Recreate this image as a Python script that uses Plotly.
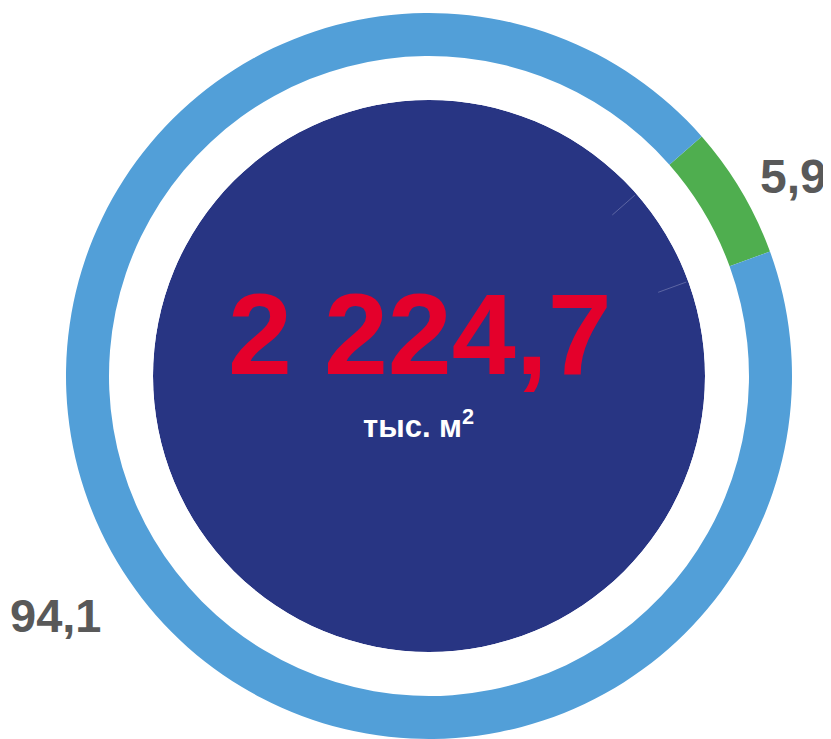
import plotly.graph_objects as go

# Data
segment_names = ["Доля 1", "Доля 2"]
segment_values = [5.9, 94.1]
segment_labels = ["5,9", "94,1"]
total_value = "2 224,7"
total_unit = "тыс. м<sup>2</sup>"

# page offset (default body margin) compensation
OFF = 8
W, H = 831 - OFF, 739 - OFF
cx, cy = 429 - OFF, 376 - OFF          # pie centre in px within the figure
R_out, R_ring_in, R_dark, R_line_in = 363, 320, 276, 244

def dom(r):
    x = [(cx - r) / W, (cx + r) / W]
    yb = H - cy
    y = [max(0, (yb - r) / H), min(1, (yb + r) / H)]
    return dict(x=x, y=y)

def px(x, y):
    return (x - OFF) / W, 1 - (y - OFF) / H

ring_colors = ["#4fae4f", "#529fd8"]
navy = "#283583"
rot = 48.7
total = sum(segment_values)

fig = go.Figure()
# outer ring
fig.add_trace(go.Pie(
    labels=segment_names, values=segment_values, sort=False, direction="clockwise",
    rotation=rot, hole=R_ring_in / R_out, domain=dom(R_out),
    marker=dict(colors=ring_colors, line=dict(width=0)),
    textinfo="none", hoverinfo="label+value", showlegend=False))

# inner navy disc (polar subplot so separators can be drawn on top)
fig.add_trace(go.Barpolar(
    r=[R_dark], theta=[180], width=[360], base=0,
    marker=dict(color=navy, line=dict(width=0)),
    hoverinfo="skip", showlegend=False))

# faint slice separators near the rim of the inner disc
bounds = [rot, rot + 360 * segment_values[0] / total]
for b in bounds:
    fig.add_trace(go.Scatterpolar(
        r=[R_line_in, R_dark - 2], theta=[b, b], mode="lines",
        line=dict(color="#5d66a3", width=1), hoverinfo="skip", showlegend=False))

fig.update_layout(polar=dict(
    domain=dom(R_dark), bgcolor="rgba(0,0,0,0)", hole=0,
    radialaxis=dict(range=[0, R_dark], visible=False, showgrid=False),
    angularaxis=dict(visible=False, rotation=90, direction="clockwise", showgrid=False)))

font = "Liberation Sans, Arial, sans-serif"
annotations = []
for (x, y), text, size, color in [
    ((419.5, 334), total_value, 115, "#e4002b"),
    ((418.5, 424), total_unit, 31, "#ffffff"),
    ((793, 176), segment_labels[0], 48, "#595959"),
    ((55.5, 615.5), segment_labels[1], 47, "#595959"),
]:
    ax, ay = px(x, y)
    annotations.append(dict(
        x=ax, y=ay, text="<b>" + text + "</b>", xref="paper", yref="paper",
        xanchor="center", yanchor="middle", showarrow=False,
        font=dict(family=font, size=size, color=color)))

fig.update_layout(width=W, height=H, margin=dict(l=0, r=0, t=0, b=0),
                  paper_bgcolor="white", plot_bgcolor="white",
                  annotations=annotations, showlegend=False)
fig.write_html("out.html")
